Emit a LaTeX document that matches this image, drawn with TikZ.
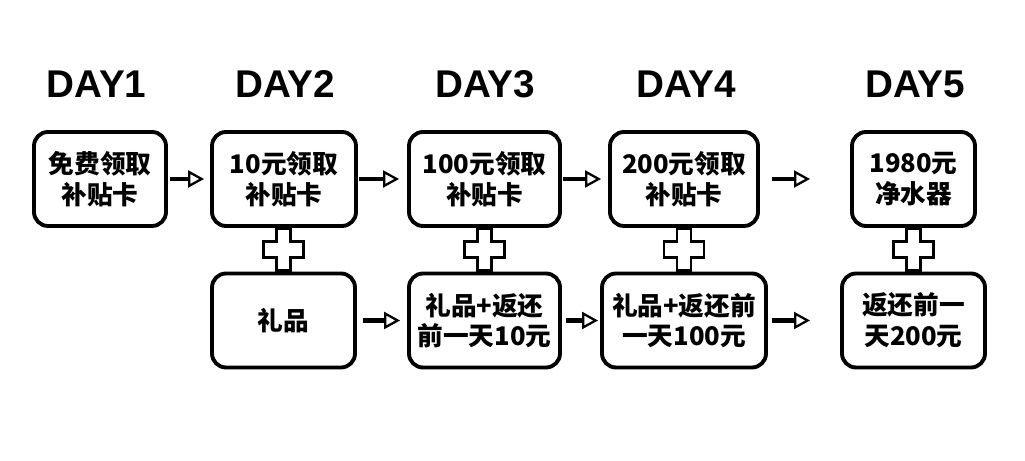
\documentclass[tikz,border=0pt]{standalone}
\usepackage{fontspec}
\setmainfont{Liberation Sans}
\newfontfamily\cjk{Noto Sans CJK SC}
\usetikzlibrary{arrows.meta,calc}

\begin{document}
\begin{tikzpicture}[
        box/.style={draw, line width=2.2pt, rounded corners=0.28cm, minimum height=1.88cm, inner sep=0pt, align=center, font=\cjk\bfseries\fontsize{14.6}{17.5}\selectfont},
        arr/.style={line width=2.6pt, -{Triangle[open,length=0.32cm,width=0.34cm,line width=1.3pt]}},
        daylabel/.style={font=\bfseries\fontsize{22}{26}\selectfont},
        plussign/.pic={\draw[line width=1.5pt, fill=white] (-0.14,0.42) -- (0.14,0.42) -- (0.14,0.16) -- (0.4,0.16) -- (0.4,-0.16) -- (0.14,-0.16) -- (0.14,-0.42) -- (-0.14,-0.42) -- (-0.14,-0.16) -- (-0.4,-0.16) -- (-0.4,0.16) -- (-0.14,0.16) -- cycle;}
    ]
        % Page size
        \useasboundingbox (0,0) rectangle (20.5,9.22);

        % Day labels
        \node[daylabel] (d1) at (1.93,7.54) {DAY1};
        \node[daylabel] (d2) at (5.7,7.54) {DAY2};
        \node[daylabel] (d3) at (9.7,7.54) {DAY3};
        \node[daylabel] (d4) at (13.72,7.54) {DAY4};
        \node[daylabel] (d5) at (18.3,7.54) {DAY5};

        % Top row: cards
        \node[box, minimum width=2.64cm] (t1) at (2.0,5.64) {免费领取\\补贴卡};
        \node[box, minimum width=2.88cm] (t2) at (5.68,5.64) {10元领取\\补贴卡};
        \node[box, minimum width=3.02cm] (t3) at (9.69,5.64) {100元领取\\补贴卡};
        \node[box, minimum width=2.96cm] (t4) at (13.68,5.64) {200元领取\\补贴卡};
        \node[box, minimum width=2.46cm] (t5) at (18.27,5.64) {1980元\\净水器};

        % Bottom row: gifts and refunds
        \node[box, minimum width=2.86cm] (b2) at (5.67,2.81) {礼品};
        \node[box, minimum width=3.02cm] (b3) at (9.69,2.81) {礼品+返还\\前一天10元};
        \node[box, minimum width=3.28cm] (b4) at (13.68,2.81) {礼品+返还前\\一天100元};
        \node[box, minimum width=2.86cm] (b5) at (18.27,2.81) {返还前一\\天200元};

        % Loose ends of the arrows before day 5
        \coordinate (e4) at (16.2,5.64);
        \coordinate (f4) at (16.2,2.81);

        % Arrows, top row
        \draw[arr, shorten <=0.04cm, shorten >=0.12cm] (t1) -- (t2);
        \draw[arr, shorten <=0.02cm, shorten >=0.16cm] (t2) -- (t3);
        \draw[arr, shorten <=0.02cm, shorten >=0.14cm] (t3) -- (t4);
        \draw[arr, shorten <=0.24cm] (t4) -- (e4);

        % Arrows, bottom row
        \draw[arr, shorten <=0.12cm, shorten >=0.14cm] (b2) -- (b3);
        \draw[arr, shorten <=0.08cm, shorten >=0.04cm] (b3) -- (b4);
        \draw[arr, shorten <=0.08cm] (b4) -- (f4);

        % Plus signs between the rows
        \foreach \n in {2,3,4,5}
            \pic at ($(t\n.south)!0.5!(b\n.north)$) {plussign};
    \end{tikzpicture}
\end{document}
